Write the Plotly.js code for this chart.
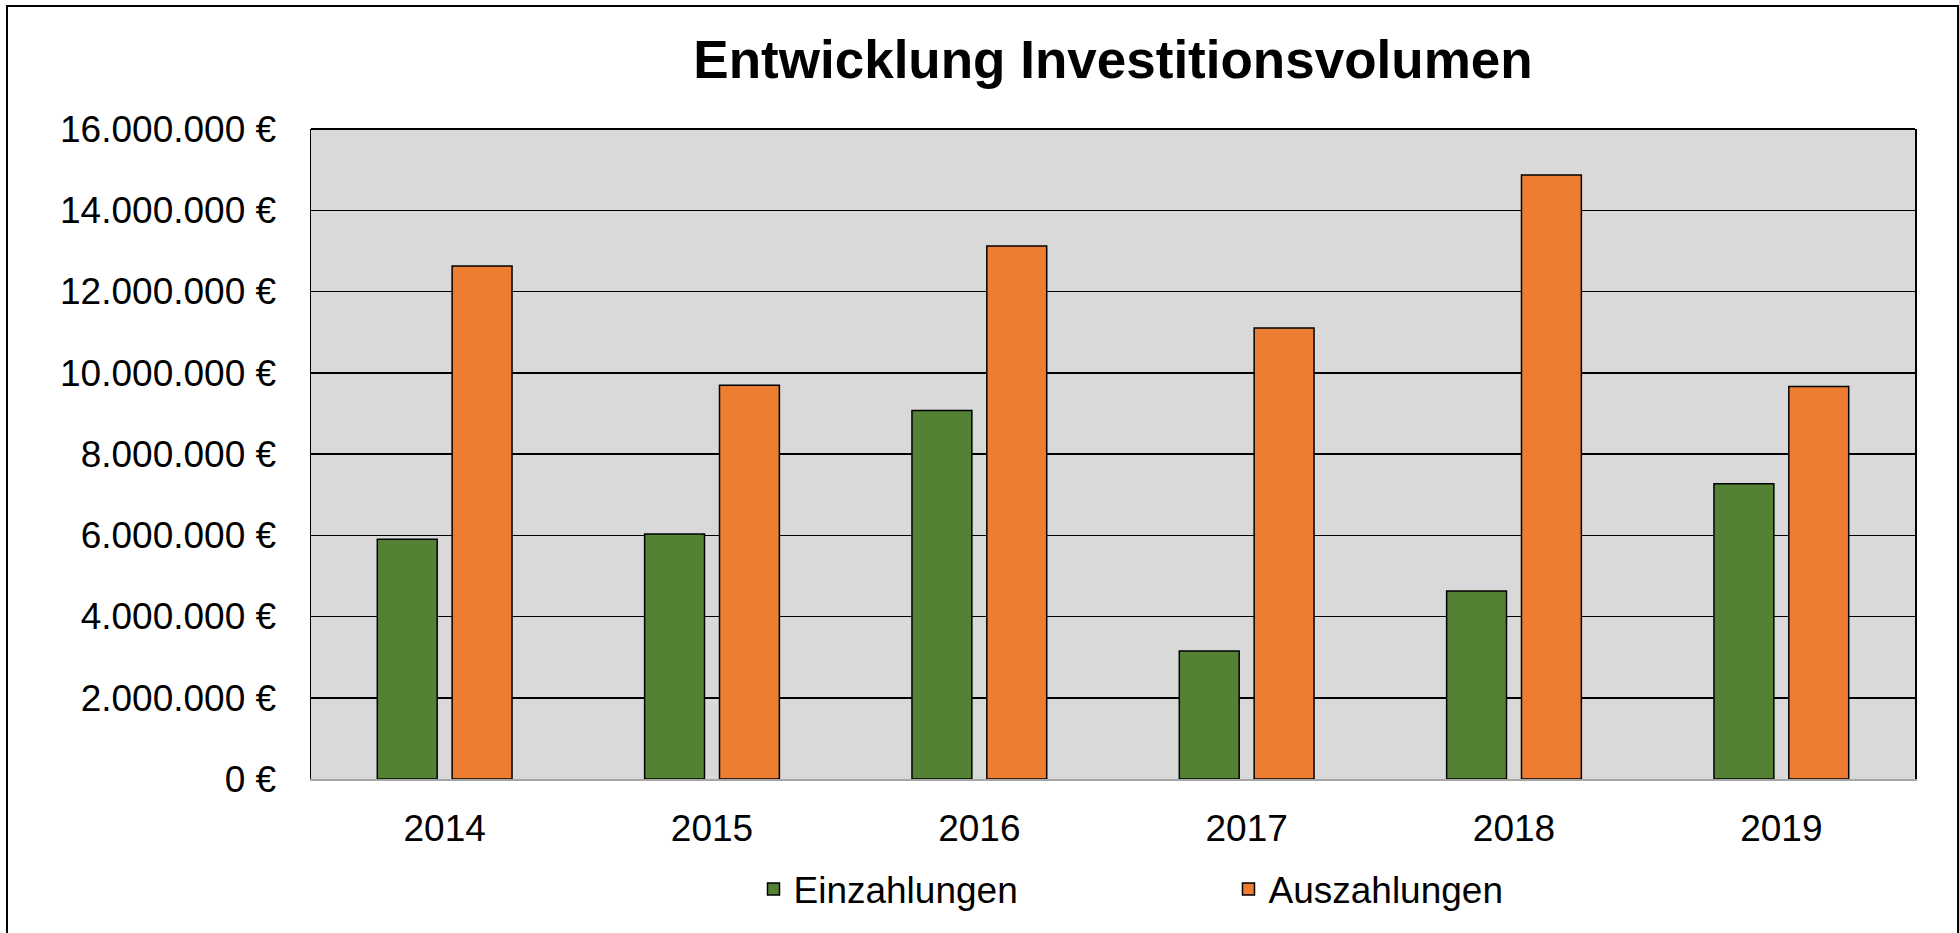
<!DOCTYPE html>
<html>
<head>
<meta charset="utf-8">
<script src="https://cdn.plot.ly/plotly-3.0.1.min.js"></script>
<style>
  html, body { margin: 0; padding: 0; background: #ffffff; }
  #wrap { position: relative; width: 1959px; height: 933px; overflow: hidden; }
  #chart { position: absolute; left: 0; top: 0; width: 1959px; height: 933px; }
  #frame { position: absolute; left: 6px; top: 5px; width: 1949px; height: 940px;
           border: 2px solid #000; pointer-events: none; }
</style>
</head>
<body>
<div id="wrap">
  <div id="chart"></div>
  <div id="frame"></div>
</div>
<script>
// ---- data ----
const years = ["2014", "2015", "2016", "2017", "2018", "2019"];
const einzahlungen = [5900000, 6030000, 9070000, 3150000, 4630000, 7270000];
const auszahlungen = [12630000, 9690000, 13120000, 11100000, 14870000, 9660000];
const seriesNames = ["Einzahlungen", "Auszahlungen"];
const chartTitle = "Entwicklung Investitionsvolumen";

const FONT = "Liberation Sans, Arial, sans-serif";

const traces = [
  {
    type: "bar", name: seriesNames[0], x: years, y: einzahlungen,
    marker: { color: "#548235", line: { color: "#000000", width: 1.5 } }
  },
  {
    type: "bar", name: seriesNames[1], x: years, y: auszahlungen,
    marker: { color: "#ED7D31", line: { color: "#000000", width: 1.5 } }
  }
];

const layout = {
  width: 1959, height: 933,
  margin: { l: 311, r: 44, t: 129, b: 152 },
  paper_bgcolor: "#ffffff",
  plot_bgcolor: "#D9D9D9",
  separators: ",.",
  font: { family: FONT, size: 37, color: "#000000" },
  title: {
    text: chartTitle,
    font: { family: FONT, size: 53, color: "#000000", weight: "bold" },
    x: 0.5, xref: "paper", xanchor: "center",
    y: 1 - 59 / 933, yref: "container", yanchor: "middle"
  },
  barmode: "group",
  bargap: 0.44,
  bargroupgap: 0.2,
  showlegend: true,
  legend: {
    orientation: "h",
    x: 0.572, xanchor: "center",
    y: -0.17, yanchor: "middle",
    font: { family: FONT, size: 37, color: "#000000" },
    entrywidth: 430, entrywidthmode: "pixels",
    bgcolor: "rgba(0,0,0,0)"
  },
  xaxis: {
    type: "category",
    showgrid: false,
    showline: true, linecolor: "#A6A6A6", linewidth: 2,
    ticks: "",
    ticklabelstandoff: 16,
    tickfont: { family: FONT, size: 37, color: "#000000" },
    fixedrange: true
  },
  yaxis: {
    range: [0, 16000000],
    dtick: 2000000, tick0: 0,
    tickformat: ",d",
    ticksuffix: " €",
    showgrid: true, gridcolor: "#000000", gridwidth: 1.5,
    zeroline: false,
    showline: true, linecolor: "#000000", linewidth: 1.5, mirror: true,
    ticks: "",
    ticklabelstandoff: 26,
    tickfont: { family: FONT, size: 37, color: "#000000" },
    fixedrange: true
  },
  shapes: [
    { type: "line", xref: "paper", yref: "paper", x0: 0, x1: 1, y0: 1, y1: 1,
      line: { color: "#000000", width: 2 } }
  ]
};

Plotly.newPlot("chart", traces, layout, { displayModeBar: false, staticPlot: true });
</script>
</body>
</html>
